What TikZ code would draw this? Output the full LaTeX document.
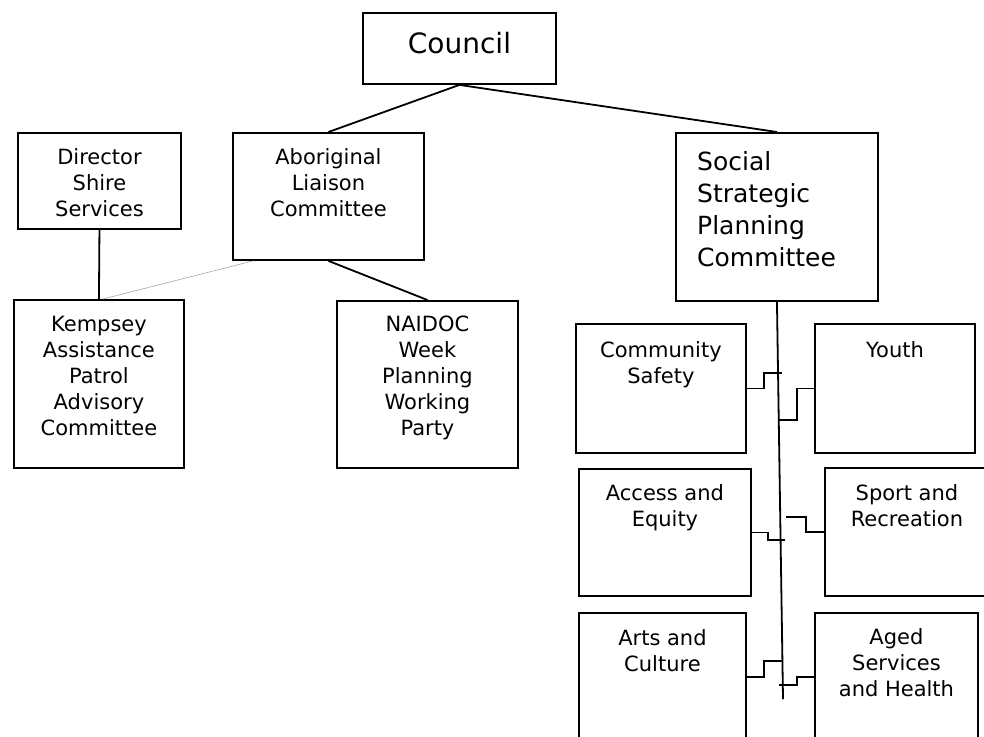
\documentclass[tikz,border=0pt]{standalone}
\usepackage{fontspec}
\setmainfont{DejaVu Sans}
\usepackage{tikz}
\usetikzlibrary{positioning}
\tikzset{
    unit/.style={draw, rectangle, inner sep=0pt, anchor=north west, line width=1.9pt, draw=black},
    caption/.style={inner sep=0pt, align=center, anchor=north, font=\fontsize{21}{26}\selectfont},
    link/.style={line width=1.8pt, draw=black},
    faint/.style={line width=0.6pt, draw=gray!70}
}
\begin{document}
\begin{tikzpicture}[x=1pt, y=-1pt]

        \useasboundingbox (0,0) rectangle (984,736);
        \clip (0,0) rectangle (984,736);

        % -----------------------------------------------------------------
        % VERTICE
        % -----------------------------------------------------------------
        \node[unit, minimum width=193pt, minimum height=71pt] (council) at (362,12) {};
        \node[caption, font=\fontsize{28}{34}\selectfont, below=20pt of council.north] {Council};

        % -----------------------------------------------------------------
        % RAMO SINISTRO
        % -----------------------------------------------------------------
        \node[unit, minimum width=163pt, minimum height=96pt] (director) at (17,132) {};
        \node[caption, below=16pt of director.north] {Director\\Shire\\Services};

        \node[unit, minimum width=191pt, minimum height=127pt] (aboriginal) at (232,132) {};
        \node[caption, below=16pt of aboriginal.north] {Aboriginal\\Liaison\\Committee};

        \node[unit, minimum width=170pt, minimum height=168pt] (kempsey) at (13,299) {};
        \node[caption, below=17pt of kempsey.north] {Kempsey\\Assistance\\Patrol\\Advisory\\Committee};

        \node[unit, minimum width=181pt, minimum height=167pt] (naidoc) at (336,300) {};
        \node[caption, below=16pt of naidoc.north] {NAIDOC\\Week\\Planning\\Working\\Party};

        % -----------------------------------------------------------------
        % RAMO DESTRO
        % -----------------------------------------------------------------
        \node[unit, minimum width=202pt, minimum height=168pt] (social) at (675,132) {};
        \node[caption, anchor=north west, align=left, font=\fontsize{25}{32}\selectfont,
              below right=19pt and 22pt of social.north west] {Social\\Strategic\\Planning\\Committee};

        \node[unit, minimum width=170pt, minimum height=129pt] (safety) at (575,323) {};
        \node[caption, below=18pt of safety.north] {Community\\Safety};

        \node[unit, minimum width=160pt, minimum height=129pt] (youth) at (814,323) {};
        \node[caption, below=18pt of youth.north] {Youth};

        \node[unit, minimum width=172pt, minimum height=127pt] (access) at (578,468) {};
        \node[caption, below=16pt of access.north] {Access and\\Equity};

        \node[unit, minimum width=164pt, minimum height=128pt] (sport) at (824,467) {};
        \node[caption, below=17pt of sport.north] {Sport and\\Recreation};

        \node[unit, minimum width=167pt, minimum height=128pt] (arts) at (578,612) {};
        \node[caption, below=17pt of arts.north] {Arts and\\Culture};

        \node[unit, minimum width=163pt, minimum height=128pt] (aged) at (814,612) {};
        \node[caption, below=16pt of aged.north] {Aged\\Services\\and Health};

        % -----------------------------------------------------------------
        % COLLEGAMENTI
        % -----------------------------------------------------------------
        \draw[link] (council.south) -- (aboriginal.north);
        \draw[link] (council.south) -- (social.north);
        \draw[link] (aboriginal.south) -- (naidoc.north);
        \draw[link] (director.south) -- (kempsey.north);
        \draw[faint] ([xshift=21pt]aboriginal.south west) -- ([xshift=4pt]kempsey.north);

        \coordinate (trunkend) at (783,699);
        \draw[link] (social.south) -- (trunkend);

        % gradini verso la linea centrale
        \draw[link] (safety.east) -- ++(17,0) -- ++(0,-15.5) -- ++(18,0);
        \draw[link] (youth.west) -- ++(-17,0) -- ++(0,31.5) -- ++(-19,0);
        \draw[link] (access.east) -- ++(16,0) -- ++(0,7.5) -- ++(17,0);
        \draw[link] (sport.west) -- ++(-18,0) -- ++(0,-15) -- ++(-20,0);
        \draw[link] (arts.east) -- ++(17,0) -- ++(0,-16) -- ++(18,0);
        \draw[link] (aged.west) -- ++(-17,0) -- ++(0,8) -- ++(-18,0);

\end{tikzpicture}
\end{document}
